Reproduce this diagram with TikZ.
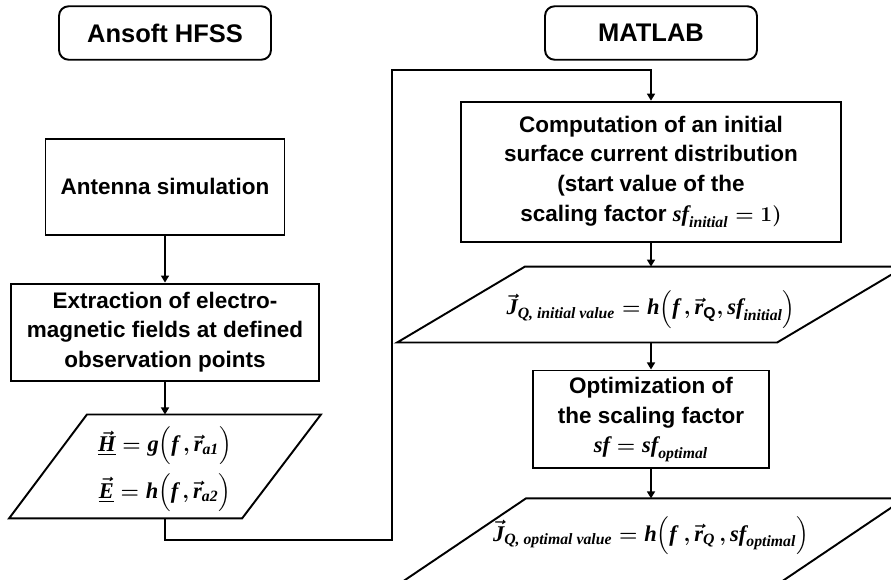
\documentclass[tikz,border=0pt]{standalone}
\usepackage{amsmath}
\usepackage{fontspec}
\setmainfont{Liberation Sans}
\newfontfamily\eqfont{Liberation Serif}
\newcommand{\eqit}[1]{\text{\eqfont\bfseries\itshape #1}}
\usetikzlibrary{arrows.meta,positioning,calc}

\begin{document}
\begin{tikzpicture}[
  x=0.02cm,y=-0.02cm,
  line width=1.1pt,
  font=\fontsize{12.8}{17}\selectfont\bfseries\boldmath,
  tbox/.style={rectangle,draw,rounded corners=5.5pt,minimum width=4.24cm,minimum height=1.07cm,font=\fontsize{14.5}{17}\selectfont\bfseries},
  pbox/.style={rectangle,draw,align=center,inner sep=2pt},
  iobox/.style={rectangle,inner sep=0pt},
  arrow/.style={-{Triangle[length=4pt,width=4.5pt]}}
]
  \clip (0,0) rectangle (891,580);

  % Ansoft HFSS
  \node[tbox] (hfss) at (165,33) {Ansoft HFSS};
  \node[pbox,minimum width=4.78cm,minimum height=1.92cm,below=1.54cm of hfss] (antsim) {Antenna simulation};
  \node[pbox,minimum width=6.16cm,minimum height=1.94cm,below=0.94cm of antsim] (extract) {Extraction of electro-\\magnetic fields at defined\\observation points};
  \node[iobox,minimum width=6.2cm,minimum height=2.04cm,below=0.66cm of extract,
    label={[align=center,yshift=-0.06cm]center:{$\underline{\vec{\eqit{H}}} = \eqit{g}\Big(\eqit{f}\,,\vec{\eqit{r}}_{\eqit{a1}}\Big)$\\[4pt]$\underline{\vec{\eqit{E}}} = \eqit{h}\Big(\eqit{f}\,,\vec{\eqit{r}}_{\eqit{a2}}\Big)$}}] (fields) {};

  % MATLAB
  \node[tbox] (matlab) at (651,33) {MATLAB};
  \node[pbox,minimum width=7.6cm,minimum height=2.8cm,below=0.8cm of matlab] (comp) {Computation of an initial\\surface current distribution\\(start value of the\\scaling factor $\eqit{sf}_{\eqit{initial}} = 1)$};
  \node[iobox,minimum width=10.12cm,minimum height=1.48cm,below=0.48cm of comp,
    label={[yshift=-0.1cm]center:{$\vec{\eqit{J}}_{\eqit{Q, initial value}} = \eqit{h}\Big(\eqit{f}\,,\vec{\eqit{r}}_{\mathrm{Q}},\eqit{sf}_{\eqit{initial}}\Big)$}}] (jinit) {};
  \node[pbox,minimum width=4.72cm,minimum height=1.96cm,below=0.54cm of jinit] (opt) {Optimization of\\the scaling factor\\$\eqit{sf} = \eqit{sf}_{\eqit{optimal}}$};
  \node[iobox,minimum width=10.12cm,minimum height=1.7cm,below=0.58cm of opt,
    label={[yshift=0.12cm]center:{$\vec{\eqit{J}}_{\eqit{Q, optimal value}} = \eqit{h}\Big(\eqit{f}\;,\vec{\eqit{r}}_{\eqit{Q}}\,,\eqit{sf}_{\eqit{optimal}}\Big)$}}] (jopt) {};

  % data shapes
  \draw (fields.south west) -- ++(233,0) -- (fields.north east) -- ++(-234,0) -- cycle;
  \draw (jinit.south west) -- ++(380,0) -- (jinit.north east) -- ++(-380,0) -- cycle;
  \draw (jopt.south west) -- ++(379,0) -- (jopt.north east) -- ++(-379,0) -- cycle;

  % Arrows
  \coordinate (lb) at (392,540);
  \coordinate (lt) at (392,70);
  \draw[arrow] (antsim) -- (extract);
  \draw[arrow] (extract) -- (fields);
  \draw[arrow] (fields.south) |- (lb) -- (lt) -| (comp.north);
  \draw[arrow] (comp) -- (jinit);
  \draw[arrow] (jinit) -- (opt);
  \draw[arrow] (opt) -- (jopt);
\end{tikzpicture}
\end{document}
